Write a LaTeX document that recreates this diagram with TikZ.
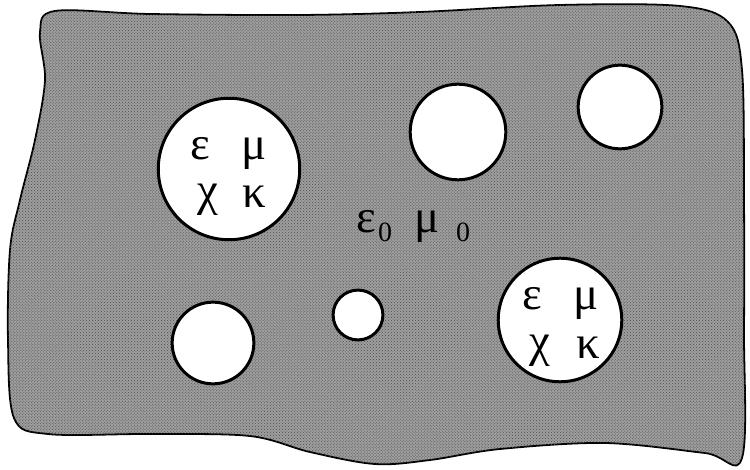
\documentclass[tikz,border=0pt]{standalone}
\usepackage{fontspec}
\setmainfont{Liberation Serif}
\usetikzlibrary{patterns}
\tikzset{
  hole/.style={circle, draw, line width=3pt, fill=white, inner sep=0pt},
  greek/.style={font=\fontsize{47}{47}\selectfont, inner sep=0pt, anchor=base},
  zero/.style={font=\fontsize{28}{28}\selectfont, inner sep=0pt},
}
\begin{document}
\begin{tikzpicture}[x=1bp, y=-1bp]
  \useasboundingbox (0,0) rectangle (750,470);
  % 바깥 매질
  \draw[line width=1.8pt, fill=black!38,
        postaction={pattern=crosshatch dots, pattern color=black!70}]
    plot[smooth cycle, tension=0.55] coordinates {
      (55,11) (150,14) (300,15) (420,12) (560,5) (680,6) (728,22) (742,70)
      (744,200) (744,330) (742,458) (705,453) (605,443) (500,449) (430,460)
      (375,464) (310,452) (250,436) (150,434) (48,434) (14,418) (8,340)
      (10,250) (20,200) (35,140) (45,80) (40,32)};
  % 구멍(원)
  \node[hole, minimum size=142] (h1) at (229,169) {};
  \node[hole, minimum size=96]  (h2) at (458,132) {};
  \node[hole, minimum size=84]  (h3) at (620,107) {};
  \node[hole, minimum size=82]  (h4) at (213,343) {};
  \node[hole, minimum size=50]  (h5) at (358,315) {};
  \node[hole, minimum size=124] (h6) at (560,320) {};
  % 기호
  \node[greek] (e1) at (200,160) {ε};
  \node[greek] (m1) at (254,160) {μ};
  \node[greek] (c1) at (208,206) {χ};
  \node[greek] (k1) at (254,208) {κ};
  \node[greek] (e2) at (532,310) {ε};
  \node[greek] (m2) at (586,310) {μ};
  \node[greek] (c2) at (540,357) {χ};
  \node[greek] (k2) at (588,359) {κ};
  \node[greek] (e0) at (366,233) {ε};
  \node[zero] (e0s) at (385,232) {0};
  \node[greek] (m0) at (427,233) {μ};
  \node[zero] (m0s) at (463,232) {0};
\end{tikzpicture}
\end{document}
